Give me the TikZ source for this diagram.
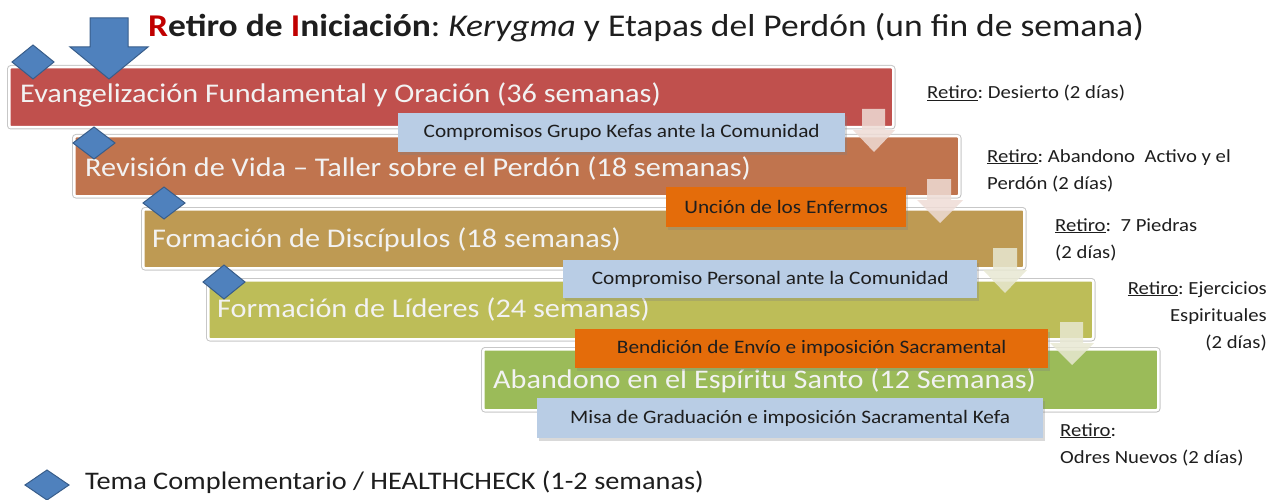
\documentclass[tikz,border=0pt]{standalone}
\usepackage{fontspec}
\setmainfont{Carlito}[FakeStretch=1.12]
\usetikzlibrary{shadows}
\frenchspacing
\definecolor{barA}{HTML}{C0504D}
\definecolor{barB}{HTML}{C0744E}
\definecolor{barC}{HTML}{BE9A53}
\definecolor{barD}{HTML}{BDBD58}
\definecolor{barE}{HTML}{9BBB59}
\definecolor{lblue}{HTML}{B9CDE5}
\definecolor{lorange}{HTML}{E46C0A}
\definecolor{gemblue}{HTML}{4F81BD}
\definecolor{gemedge}{HTML}{385D8A}
\definecolor{titlered}{HTML}{C00000}
\definecolor{paleA}{HTML}{EEDCD6}
\definecolor{paleB}{HTML}{E8E8D2}
\definecolor{txtdark}{HTML}{1E1E1E}
\begin{document}
\begin{tikzpicture}[x=1pt,y=-1pt,
  barbox/.style={anchor=north west, rounded corners=2pt, inner sep=0pt,
    draw=white, line width=2.5pt,
    preaction={draw=black!22, line width=4.5pt},
    drop shadow={opacity=0.15, shadow xshift=1.5pt, shadow yshift=-1.5pt}},
  bartext/.style={anchor=base west, inner sep=0pt, text=white!95!black,
    font=\fontsize{27}{32}\selectfont},
  lblbox/.style={anchor=north west, inner sep=0pt,
    drop shadow={opacity=0.3, shadow xshift=2pt, shadow yshift=-2.5pt}},
  lbltext/.style={inner sep=0pt, text=txtdark, font=\fontsize{19}{22}\selectfont},
  sidetext/.style={anchor=base west, inner sep=0pt, text=txtdark,
    font=\fontsize{18.5}{22}\selectfont},
  palearrow/.style={opacity=0.85},
  gem/.style={fill=gemblue, draw=gemedge, line width=1pt, line join=miter}
]
\useasboundingbox (0,0) rectangle (1279,500);

% title
\node[anchor=base west, inner sep=0pt, text=txtdark, font=\fontsize{31.7}{36}\selectfont] (title) at (148,37)
  {\textbf{\textcolor{titlered}{R}etiro de \textcolor{titlered}{I}niciación}: \textit{Kerygma} y Etapas del Perdón (un fin de semana)};

% bars
\node[barbox, fill=barA, minimum width=884pt, minimum height=60pt] (bar1) at (8,66) {};
\node[barbox, fill=barB, minimum width=885pt, minimum height=60pt] (bar2) at (73,135) {};
\node[barbox, fill=barC, minimum width=881pt, minimum height=59pt] (bar3) at (142,208) {};
\node[barbox, fill=barD, minimum width=885pt, minimum height=59pt] (bar4) at (207,279) {};
\node[barbox, fill=barE, minimum width=675pt, minimum height=61pt] (bar5) at (482,348) {};

\node[bartext] (t1) at (20,103) {Evangelización Fundamental y Oración (36 semanas)};
\node[bartext] (t2) at (85,176) {Revisión de Vida – Taller sobre el Perdón (18 semanas)};
\node[bartext] (t3) at (152,247) {Formación de Discípulos (18 semanas)};
\node[bartext] (t4) at (217,317) {Formación de Líderes (24 semanas)};
\node[bartext] (t5) at (493,388) {Abandono en el Espíritu Santo (12 Semanas)};

% pale arrows
\fill[palearrow, paleA] (862,109) -- (885,109) -- (885,130) -- (895,130) -- (874,152) -- (853,130) -- (862,130) -- cycle;
\fill[palearrow, paleA] (927,179) -- (951,179) -- (951,200) -- (963,200) -- (940,223) -- (917,200) -- (927,200) -- cycle;
\fill[palearrow, paleB] (993,248) -- (1017,248) -- (1017,270) -- (1027,270) -- (1005,293) -- (983,270) -- (993,270) -- cycle;
\fill[palearrow, paleB] (1060,322) -- (1083,322) -- (1083,343) -- (1094,343) -- (1072,365) -- (1050,343) -- (1060,343) -- cycle;

% labels
\node[lblbox, fill=lblue, minimum width=447pt, minimum height=39pt] (l1) at (398,113) {};
\node[lbltext] at (l1.center) {Compromisos Grupo Kefas ante la Comunidad};
\node[lblbox, fill=lorange, minimum width=240pt, minimum height=40pt] (l2) at (666,187) {};
\node[lbltext] at (l2.center) {Unción de los Enfermos};
\node[lblbox, fill=lblue, minimum width=414pt, minimum height=38pt] (l3) at (563,260) {};
\node[lbltext] at (l3.center) {Compromiso Personal ante la Comunidad};
\node[lblbox, fill=lorange, minimum width=473pt, minimum height=39pt] (l4) at (575,329) {};
\node[lbltext] at (l4.center) {Bendición de Envío e imposición Sacramental};
\node[lblbox, fill=lblue, minimum width=506pt, minimum height=40pt] (l5) at (537,398) {};
\node[lbltext] at (l5.center) {Misa de Graduación e imposición Sacramental Kefa};

% side texts
\node[sidetext] (r1) at (927,99) {\underline{Retiro}: Desierto (2 días)};
\node[sidetext] (r2a) at (987,162) {\underline{Retiro}: Abandono\ \ Activo y el};
\node[sidetext] (r2b) at (987,189) {Perdón (2 días)};
\node[sidetext] (r3a) at (1055,231) {\underline{Retiro}:\ \ 7 Piedras};
\node[sidetext] (r3b) at (1055,258) {(2 días)};
\node[sidetext, anchor=base east] (r4a) at (1267,294) {\underline{Retiro}: Ejercicios};
\node[sidetext, anchor=base east] (r4b) at (1267,321) {Espirituales};
\node[sidetext, anchor=base east] (r4c) at (1267,348) {(2 días)};
\node[sidetext] (r5a) at (1060,436) {\underline{Retiro}:};
\node[sidetext] (r5b) at (1060,463) {Odres Nuevos (2 días)};

% diamonds
\filldraw[gem] (12,62) -- (33,45) -- (54,62) -- (33,79) -- cycle;
\filldraw[gem] (73,143) -- (94,127) -- (115,143) -- (94,159) -- cycle;
\filldraw[gem] (143,203) -- (164,187) -- (185,203) -- (164,219) -- cycle;
\filldraw[gem] (203,282) -- (224,265) -- (245,282) -- (224,299) -- cycle;

% big blue arrow
\filldraw[gem] (90,18) -- (128,18) -- (128,47) -- (148,47) -- (109,79) -- (70,47) -- (90,47) -- cycle;

% legend
\filldraw[gem] (25,485) -- (47,470) -- (69,485) -- (47,500) -- cycle;
\node[anchor=base west, inner sep=0pt, text=txtdark, font=\fontsize{25.3}{28}\selectfont] (legend) at (85,489)
  {Tema Complementario / HEALTHCHECK (1-2 semanas)};
\end{tikzpicture}
\end{document}
